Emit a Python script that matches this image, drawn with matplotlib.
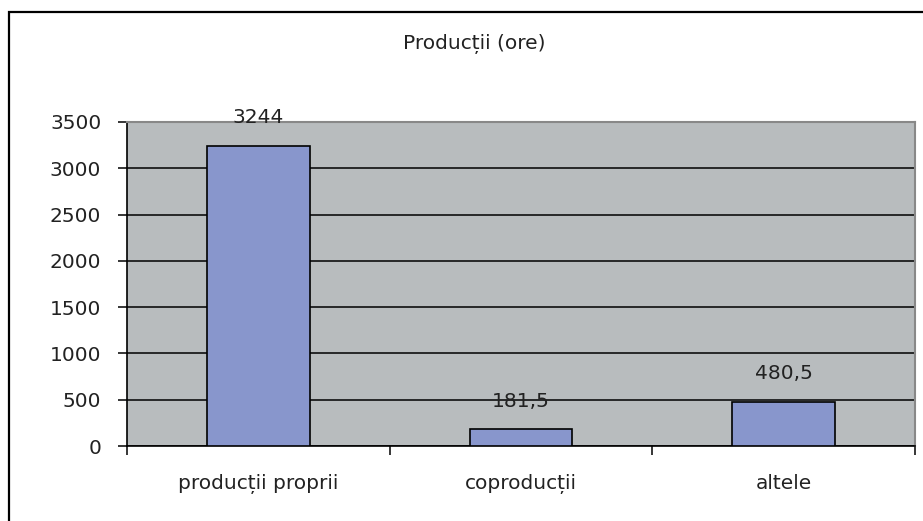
import matplotlib
matplotlib.use("Agg")
import matplotlib.pyplot as plt
from matplotlib.patches import Rectangle
from matplotlib.ticker import FixedLocator, NullFormatter

categories = ["producții proprii", "coproducții", "altele"]
values = [3244, 181.5, 480.5]
value_labels = ["3244", "181,5", "480,5"]
yticks = [0, 500, 1000, 1500, 2000, 2500, 3000, 3500]
title = "Producții (ore)"

plt.rcParams['font.family'] = ['DejaVu Sans']
FS = 14.5
TXT = '#222222'

fig = plt.figure(figsize=(9.23, 5.21), dpi=100)
fig.patch.set_facecolor('white')

# outer chart frame (only left and top visible in reference)
fig.patches.append(Rectangle((9/923, -0.1), 1.2, 1 - 12/521 + 0.1,
                             transform=fig.transFigure, fill=False,
                             edgecolor='black', linewidth=1.6))

ax = fig.add_axes([127/923, 1 - 446/521, (915 - 127)/923, (446 - 122)/521])
ax.set_facecolor('#B8BCBE')

x = list(range(len(categories)))
ax.bar(x, values, width=0.39, color='#8896CC', edgecolor='black', linewidth=1.2, zorder=3)

ax.set_xlim(-0.5, len(categories) - 0.5)
ax.set_ylim(0, 3500)
ax.set_yticks(yticks)
ax.set_yticklabels([str(t) for t in yticks], fontsize=FS, color=TXT)
ax.yaxis.grid(True, color='black', linewidth=1.1, zorder=1)
ax.set_axisbelow(True)

ax.set_xticks(x)
ax.set_xticklabels(categories, fontsize=FS, color=TXT)
ax.tick_params(axis='x', which='major', length=0, pad=20)
ax.xaxis.set_minor_locator(FixedLocator([i - 0.5 for i in range(len(categories) + 1)]))
ax.xaxis.set_minor_formatter(NullFormatter())
ax.tick_params(axis='x', which='minor', length=6.5, width=1.1, direction='out', color='black')
ax.tick_params(axis='y', length=6.5, width=1.1, direction='out', color='black', pad=12)

for side in ['top', 'right']:
    ax.spines[side].set_color('#888888')
    ax.spines[side].set_linewidth(1.5)
ax.spines['left'].set_color('black')
ax.spines['bottom'].set_color('black')
ax.spines['left'].set_linewidth(1.2)
ax.spines['bottom'].set_linewidth(1.2)

for xi, v, lab in zip(x, values, value_labels):
    ax.annotate(lab, (xi, v), xytext=(0, 20), textcoords='offset points',
                ha='center', va='center', fontsize=FS, color=TXT, zorder=4)

fig.text(474/923, 1 - 44/521, title, ha='center', va='center',
         fontsize=FS, color=TXT)

fig.savefig('out.png', dpi=100)
